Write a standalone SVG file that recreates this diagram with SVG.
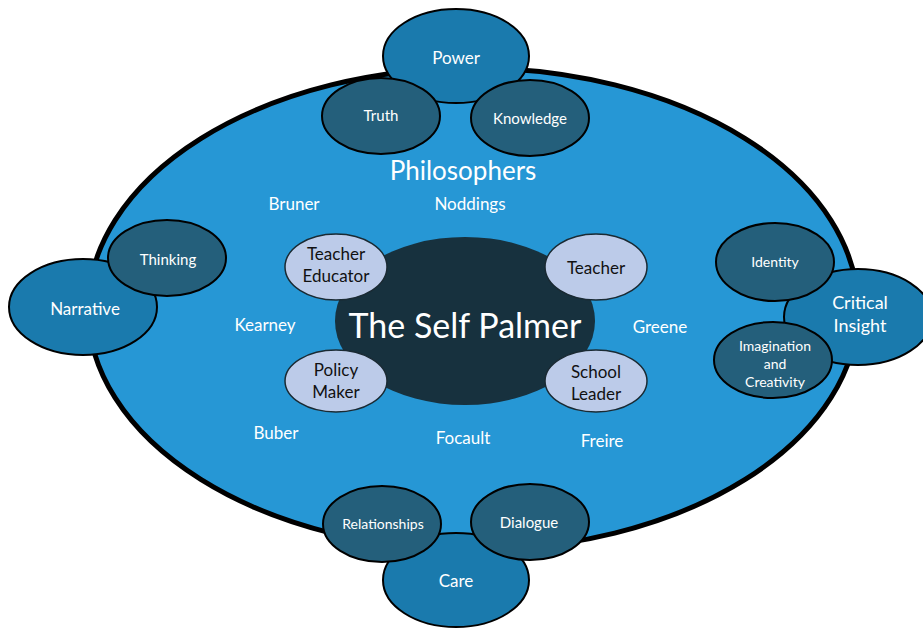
<svg xmlns="http://www.w3.org/2000/svg" width="923" height="628" viewBox="0 0 923 628">
  <style>
    text { font-family: Lato, "Noto Sans", "Liberation Sans", sans-serif; text-anchor: middle; dominant-baseline: central; }
    .frame { fill: #2697d5; stroke: #000; stroke-width: 5; }
    .mid { fill: #1a7aad; stroke: #000; stroke-width: 2; }
    .dark { fill: #245f7b; stroke: #000; stroke-width: 2; }
    .role { fill: #bccbe9; stroke: #1a2a33; stroke-width: 1.5; }
    .core { fill: #17313e; }
    .w { fill: #fff; }
    .k { fill: #111; }
  </style>
  <rect width="923" height="628" fill="#fff"/>

  <!-- outer frame -->
  <g id="frame">
    <ellipse class="frame" cx="473" cy="309" rx="385" ry="241"/>
    <text class="w" x="463" y="170" font-size="26">Philosophers</text>
    <text class="w" x="294" y="203" font-size="17">Bruner</text>
    <text class="w" x="470" y="203" font-size="17">Noddings</text>
    <text class="w" x="265" y="324" font-size="17">Kearney</text>
    <text class="w" x="660" y="326" font-size="17">Greene</text>
    <text class="w" x="276" y="432" font-size="17">Buber</text>
    <text class="w" x="463" y="437" font-size="17">Focault</text>
    <text class="w" x="602" y="440" font-size="17">Freire</text>
  </g>

  <g id="connectors"></g>

  <!-- top cluster -->
  <g id="power">
    <ellipse class="mid" cx="456" cy="56" rx="73" ry="47"/>
    <text class="w" x="456" y="57" font-size="17">Power</text>
  </g>
  <g id="truth">
    <ellipse class="dark" cx="381" cy="116" rx="59" ry="38"/>
    <text class="w" x="381" y="115" font-size="15">Truth</text>
  </g>
  <g id="knowledge">
    <ellipse class="dark" cx="530" cy="118" rx="59" ry="38"/>
    <text class="w" x="530" y="118" font-size="15">Knowledge</text>
  </g>

  <!-- left cluster -->
  <g id="narrative">
    <ellipse class="mid" cx="83" cy="307" rx="74" ry="48"/>
    <text class="w" x="85" y="308" font-size="17">Narrative</text>
  </g>
  <g id="thinking">
    <ellipse class="dark" cx="167" cy="258" rx="59" ry="38"/>
    <text class="w" x="168" y="259" font-size="15">Thinking</text>
  </g>

  <!-- right cluster -->
  <g id="critical-insight">
    <ellipse class="mid" cx="858" cy="317" rx="74" ry="48"/>
    <text class="w" x="860" y="302" font-size="18">Critical</text>
    <text class="w" x="860" y="325" font-size="18">Insight</text>
  </g>
  <g id="identity">
    <ellipse class="dark" cx="775" cy="262" rx="59" ry="39"/>
    <text class="w" x="775" y="261" font-size="14">Identity</text>
  </g>
  <g id="imagination">
    <ellipse class="dark" cx="773" cy="360" rx="59" ry="38"/>
    <text class="w" x="775" y="345" font-size="14">Imagination</text>
    <text class="w" x="775" y="363" font-size="14">and</text>
    <text class="w" x="775" y="381" font-size="14">Creativity</text>
  </g>

  <!-- bottom cluster -->
  <g id="care">
    <ellipse class="mid" cx="456" cy="580" rx="73" ry="47"/>
    <text class="w" x="456" y="580" font-size="17">Care</text>
  </g>
  <g id="relationships">
    <ellipse class="dark" cx="382" cy="524" rx="59" ry="38"/>
    <text class="w" x="383" y="523" font-size="14">Relationships</text>
  </g>
  <g id="dialogue">
    <ellipse class="dark" cx="530" cy="522" rx="59" ry="38"/>
    <text class="w" x="529" y="522" font-size="15">Dialogue</text>
  </g>

  <!-- centre -->
  <g id="self">
    <ellipse class="core" cx="465" cy="321" rx="130" ry="84"/>
    <text class="w" x="465" y="324" font-size="34">The Self Palmer</text>
  </g>
  <g id="teacher-educator">
    <ellipse class="role" cx="336" cy="267" rx="51" ry="33"/>
    <text class="k" x="336" y="253" font-size="17">Teacher</text>
    <text class="k" x="336" y="275" font-size="17">Educator</text>
  </g>
  <g id="teacher">
    <ellipse class="role" cx="596" cy="267" rx="51" ry="33"/>
    <text class="k" x="596" y="267" font-size="17">Teacher</text>
  </g>
  <g id="policy-maker">
    <ellipse class="role" cx="336" cy="381" rx="51" ry="31"/>
    <text class="k" x="336" y="369" font-size="17">Policy</text>
    <text class="k" x="336" y="391" font-size="17">Maker</text>
  </g>
  <g id="school-leader">
    <ellipse class="role" cx="596" cy="381" rx="51" ry="31"/>
    <text class="k" x="596" y="371" font-size="17">School</text>
    <text class="k" x="596" y="393" font-size="17">Leader</text>
  </g>
</svg>
